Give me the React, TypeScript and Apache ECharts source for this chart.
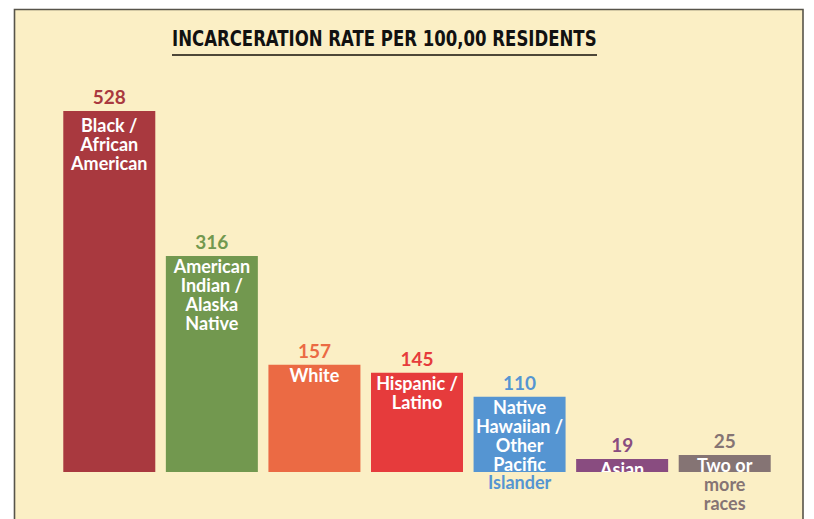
import React, { useEffect, useRef } from "react";
import * as echarts from "echarts";

const categories: string[][] = [
  ["Black /", "African", "American"],
  ["American", "Indian /", "Alaska", "Native"],
  ["White"],
  ["Hispanic /", "Latino"],
  ["Native", "Hawaiian /", "Other", "Pacific", "Islander"],
  ["Asian"],
  ["Two or", "more", "races"],
];
const values: number[] = [528, 316, 157, 145, 110, 19, 25];
const linesInsideBar: number[] = [3, 4, 1, 2, 4, 1, 1];
const colors: string[] = ["#A9393F", "#72984F", "#EB6A44", "#E63B3C", "#5595D2", "#894C80", "#857474"];
const title = "INCARCERATION RATE PER 100,00 RESIDENTS";

const PANEL = "#FBEFC5";
const FONT = "Lato, 'Noto Sans', sans-serif";
const LH = 18.8;

export default function App() {
  const ref = useRef<HTMLDivElement>(null);
  useEffect(() => {
    if (!ref.current) return;
    const chart = echarts.init(ref.current, null, { renderer: "svg" });
    const names = categories.map((c) => c.join(" "));
    const txt = { fontSize: 18, fontWeight: "bold", fontFamily: FONT, lineHeight: LH };
    const dist = (i: number) => (i === 0 ? 5 : 1);
    chart.setOption({
      animation: false,
      backgroundColor: "#ffffff",
      grid: { left: 58, right: 38, top: 111, bottom: 47 },
      xAxis: { type: "category", data: names, show: false },
      yAxis: { type: "value", min: 0, max: 528, show: false },
      graphic: [
        {
          type: "rect",
          z: -10,
          shape: { x: 14.5, y: 9.5, width: 788.5, height: 540 },
          style: { fill: PANEL, stroke: "#57544a", lineWidth: 1.6 },
        },
        {
          type: "rect",
          z: 100,
          shape: { x: 16, y: 472, width: 786, height: 60 },
          style: { fill: PANEL },
        },
        {
          type: "text",
          z: 10,
          x: 172,
          y: 29,
          scaleX: 0.876,
          style: {
            text: title,
            fill: "#111111",
            font: "bold 21px 'Liberation Sans Narrow', 'DejaVu Sans Condensed', sans-serif",
          },
        },
        {
          type: "line",
          z: 10,
          shape: { x1: 172, y1: 55, x2: 597, y2: 55 },
          style: { stroke: "#4d4738", lineWidth: 2 },
        },
      ],
      series: [
        {
          type: "bar",
          z: 2,
          barWidth: 92,
          data: values.map((v, i) => ({
            value: v,
            itemStyle: { color: colors[i] },
            label: {
              ...txt,
              show: true,
              position: "insideTop",
              distance: dist(i),
              color: "#ffffff",
              formatter: categories[i].slice(0, linesInsideBar[i]).join("\n"),
            },
          })),
        },
        {
          type: "bar",
          z: 200,
          barWidth: 92,
          barGap: "-100%",
          silent: true,
          data: values.map((v, i) => {
            const rest = categories[i].slice(linesInsideBar[i]);
            return {
              value: v,
              itemStyle: { color: "rgba(0,0,0,0)" },
              label: {
                ...txt,
                show: rest.length > 0,
                position: "insideTop",
                distance: dist(i) + linesInsideBar[i] * LH,
                color: colors[i],
                formatter: rest.join("\n") || " ",
              },
            };
          }),
        },
        {
          type: "bar",
          z: 200,
          barWidth: 92,
          barGap: "-100%",
          silent: true,
          data: values.map((v, i) => ({
            value: v,
            itemStyle: { color: "rgba(0,0,0,0)" },
            label: { color: colors[i] },
          })),
          label: {
            show: true,
            position: "top",
            distance: 5,
            fontSize: 19,
            fontWeight: "bold",
            fontFamily: FONT,
          },
        },
      ],
    });
    return () => chart.dispose();
  }, []);
  return <div ref={ref} style={{ width: 814, height: 519, position: "absolute", left: 0, top: 0 }} />;
}
